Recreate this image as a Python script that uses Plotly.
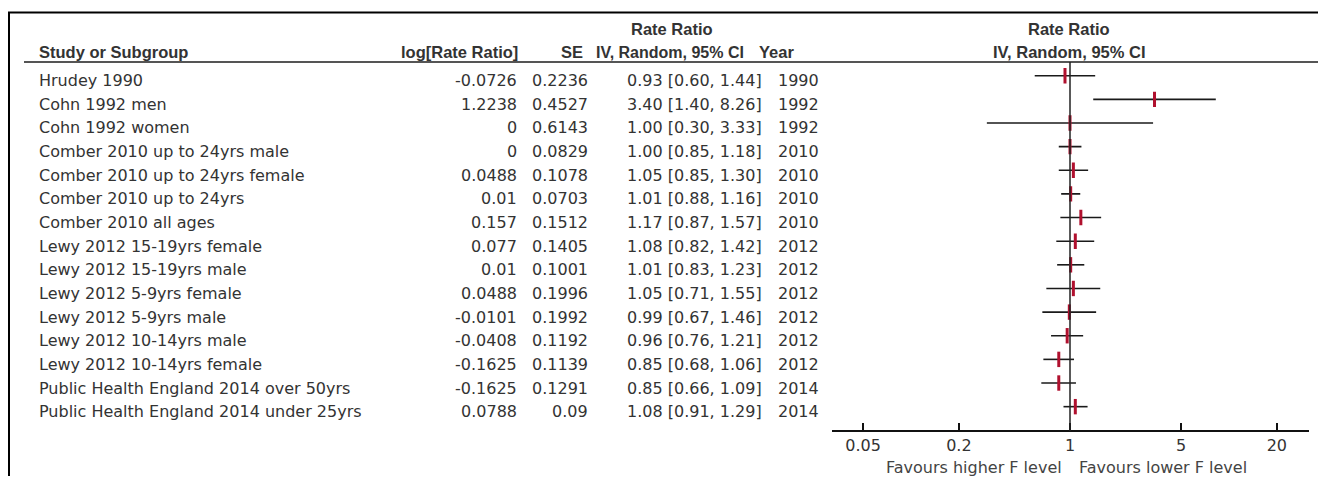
import plotly.graph_objects as go

# ---------------- data ----------------
studies = [
    "Hrudey 1990",
    "Cohn 1992 men",
    "Cohn 1992 women",
    "Comber 2010 up to 24yrs male",
    "Comber 2010 up to 24yrs female",
    "Comber 2010 up to 24yrs",
    "Comber 2010 all ages",
    "Lewy 2012 15-19yrs female",
    "Lewy 2012 15-19yrs male",
    "Lewy 2012 5-9yrs female",
    "Lewy 2012 5-9yrs male",
    "Lewy 2012 10-14yrs male",
    "Lewy 2012 10-14yrs female",
    "Public Health England 2014 over 50yrs",
    "Public Health England 2014 under 25yrs",
]
log_rr = [-0.0726, 1.2238, 0, 0, 0.0488, 0.01, 0.157, 0.077, 0.01, 0.0488,
          -0.0101, -0.0408, -0.1625, -0.1625, 0.0788]
se = [0.2236, 0.4527, 0.6143, 0.0829, 0.1078, 0.0703, 0.1512, 0.1405, 0.1001,
      0.1996, 0.1992, 0.1192, 0.1139, 0.1291, 0.09]
rr = [0.93, 3.40, 1.00, 1.00, 1.05, 1.01, 1.17, 1.08, 1.01, 1.05, 0.99, 0.96,
      0.85, 0.85, 1.08]
ci_low = [0.60, 1.40, 0.30, 0.85, 0.85, 0.88, 0.87, 0.82, 0.83, 0.71, 0.67,
          0.76, 0.68, 0.66, 0.91]
ci_high = [1.44, 8.26, 3.33, 1.18, 1.30, 1.16, 1.57, 1.42, 1.23, 1.55, 1.46,
           1.21, 1.06, 1.09, 1.29]
years = [1990, 1992, 1992, 2010, 2010, 2010, 2010, 2012, 2012, 2012, 2012,
         2012, 2012, 2014, 2014]
tick_vals = [0.05, 0.2, 1, 5, 20]
tick_text = ["0.05", "0.2", "1", "5", "20"]
favours_left = "Favours higher F level"
favours_right = "Favours lower F level"

# ---------------- geometry (screen pixels; body margin of 8px) ----------------
OFF = 8
W, H = 1310, 468
ROW0, ROWH = 75.7, 23.64


def px(x):
    return (x - OFF) / W


def py(y):
    return 1 - (y - OFF) / H


TXT = "#333333"
FONT = "DejaVu Sans"
BOLD = "Liberation Sans"
MARK = "#b0102e"

fig = go.Figure()

n = len(studies)
rows = list(range(n))

# CI lines
xs, ys = [], []
for i in rows:
    xs += [ci_low[i], ci_high[i], None]
    ys += [i, i, None]
fig.add_trace(go.Scatter(x=xs, y=ys, mode="lines",
                         line=dict(color="#1a1a1a", width=1.6),
                         hoverinfo="skip", showlegend=False))
# point estimates
fig.add_trace(go.Scatter(x=rr, y=rows, mode="markers",
                         marker=dict(symbol="line-ns", size=11,
                                     line=dict(width=3, color=MARK)),
                         hoverinfo="skip", showlegend=False))

ann = []


def add(text, x, y, xanchor, bold=False, size=16, color=TXT, yref="paper", yshift=0):
    ann.append(dict(text=("<b>%s</b>" % text) if bold else text,
                    x=x, y=y, xref="paper", yref=yref, xanchor=xanchor,
                    yanchor="middle", showarrow=False, yshift=yshift,
                    font=dict(family=BOLD if bold else FONT, size=size, color=color)))


BS = 16.5
# headers
add("Study or Subgroup", px(37), py(52), "left", bold=True, size=BS)
add("log[Rate Ratio]", px(520), py(52), "right", bold=True, size=BS)
add("SE", px(585), py(52), "right", bold=True, size=BS)
add("Rate Ratio", px(672), py(29), "center", bold=True, size=BS)
add("IV, Random, 95% CI", px(670), py(52), "center", bold=True, size=16)
add("Year", px(757), py(52), "left", bold=True, size=BS)
add("Rate Ratio", px(1069), py(29), "center", bold=True, size=BS)
add("IV, Random, 95% CI", px(1069), py(52), "center", bold=True, size=BS)

# table rows
for i in rows:
    add(studies[i], px(37), i, "left", yref="y", yshift=-5)
    add(f"{log_rr[i]:g}", px(519), i, "right", yref="y", yshift=-5)
    add(f"{se[i]:g}", px(590), i, "right", yref="y", yshift=-5)
    add(f"{rr[i]:.2f} [{ci_low[i]:.2f}, {ci_high[i]:.2f}]", px(764), i, "right",
        yref="y", yshift=-5)
    add(str(years[i]), px(776), i, "left", yref="y", yshift=-5)

add(favours_left, px(1064), py(467), "right", color="#444444")
add(favours_right, px(1077), py(467), "left", color="#444444")

shapes = [
    # top border
    dict(type="line", xref="paper", yref="paper", x0=px(8), x1=1.0,
         y0=py(12.5), y1=py(12.5), line=dict(color="black", width=2)),
    # left border
    dict(type="line", xref="paper", yref="paper", x0=px(9), x1=px(9),
         y0=py(12), y1=0, line=dict(color="black", width=2)),
    # header rule
    dict(type="line", xref="paper", yref="paper", x0=px(24), x1=1.0,
         y0=py(62), y1=py(62), line=dict(color="#555555", width=2)),
    # line of no effect
    dict(type="line", xref="x", yref="paper", x0=1, x1=1,
         y0=py(62), y1=py(431), line=dict(color="#222222", width=1.5)),
]

fig.update_layout(
    width=W, height=H, autosize=False,
    margin=dict(l=0, r=0, t=0, b=0, pad=0),
    paper_bgcolor="white", plot_bgcolor="rgba(0,0,0,0)",
    showlegend=False,
    annotations=ann, shapes=shapes,
    xaxis=dict(type="log", range=[-1.5, 1.5],
               domain=[px(831.5), px(1308.5)],
               anchor="free", position=py(431),
               showline=True, linecolor="#111111", linewidth=1.5,
               ticks="inside", ticklen=7, tickwidth=1.5, tickcolor="#111111",
               tickvals=tick_vals, ticktext=tick_text,
               tickfont=dict(family=FONT, size=16, color=TXT),
               showgrid=False, zeroline=False),
    yaxis=dict(range=[(H + OFF - ROW0) / ROWH, (OFF - ROW0) / ROWH],
               domain=[0, 1], visible=False, showgrid=False, zeroline=False),
)

fig.write_html("out.html")
